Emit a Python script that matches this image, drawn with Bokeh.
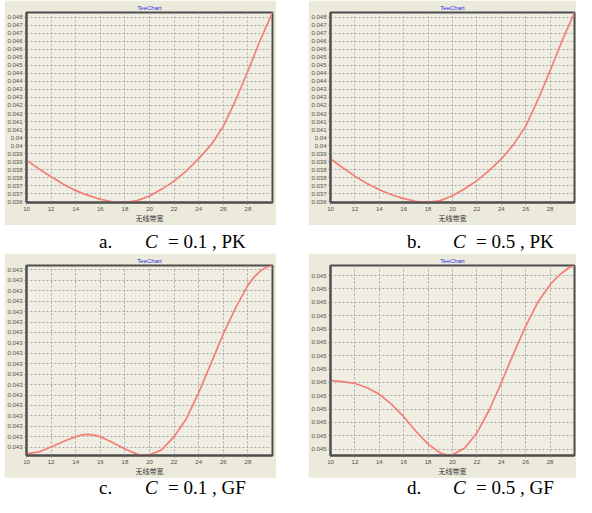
from bokeh.plotting import figure
from bokeh.models import Range1d, FixedTicker, CustomJSTickFormatter, Spacer, Div
from bokeh.layouts import row, column
from bokeh.embed import file_html
from bokeh.resources import INLINE

# ---------------- data ----------------
pk_x = [10, 11, 12, 13, 14, 15, 16, 17, 18, 19, 20, 21, 22, 23, 24, 25, 26, 27, 28, 29, 30]
pk_c01 = [0.03871, 0.03815, 0.03763, 0.03715, 0.03673, 0.03642, 0.03617, 0.03600, 0.03596, 0.03608,
          0.03638, 0.03683, 0.03735, 0.03802, 0.03881, 0.03970, 0.04090, 0.04260, 0.04450, 0.04650, 0.04830]
pk_c05 = [0.03880, 0.03822, 0.03767, 0.03720, 0.03679, 0.03646, 0.03621, 0.03604, 0.03597, 0.03608,
          0.03640, 0.03685, 0.03738, 0.03803, 0.03879, 0.03972, 0.04092, 0.04262, 0.04452, 0.04650, 0.04830]

gf_c01_x = [10, 11, 12, 13, 14, 14.5, 15, 15.5, 16, 17, 18, 19, 19.5, 20, 21, 22, 23, 24, 25, 26, 27, 28, 28.5, 29, 29.5, 30]
gf_c01 = [0.043000016, 0.043000034, 0.043000081, 0.043000134, 0.043000181, 0.043000197, 0.043000203,
          0.043000196, 0.043000181, 0.043000125, 0.043000063, 0.043000013, 0.043000000, 0.043000006,
          0.043000056, 0.043000181, 0.043000353, 0.043000603, 0.043000884, 0.043001166, 0.043001416,
          0.043001634, 0.043001710, 0.043001769, 0.043001805, 0.043001822]

gf_c05_x = [10, 11, 12, 13, 14, 15, 16, 17, 18, 19, 19.8, 20, 21, 22, 23, 24, 25, 26, 27, 28, 28.5, 29, 29.5, 30]
gf_c05 = [0.045000562, 0.045000554, 0.045000540, 0.045000508, 0.045000460, 0.045000383, 0.045000291,
          0.045000182, 0.045000085, 0.045000019, 0.045000000, 0.045000005, 0.045000056, 0.045000169,
          0.045000339, 0.045000545, 0.045000763, 0.045000969, 0.045001150, 0.045001280, 0.045001330,
          0.045001370, 0.045001405, 0.045001424]

x_ticks = [10, 12, 14, 16, 18, 20, 22, 24, 26, 28]
x_title = "无线带宽"
pk_y_labels = ["0.036", "0.037", "0.037", "0.038", "0.038", "0.039", "0.039", "0.04", "0.04", "0.041",
               "0.041", "0.042", "0.042", "0.043", "0.043", "0.044", "0.044", "0.045", "0.045", "0.046",
               "0.046", "0.047", "0.047", "0.048"]
gf_c01_y_labels = ["0.043"] * 18
gf_c05_y_labels = ["0.045"] * 14

panel_tags = ["a.", "b.", "c.", "d."]
c_values = ["0.1", "0.5", "0.1", "0.5"]
methods = ["PK", "PK", "GF", "GF"]

# ---------------- tick layout ----------------
pk_y_ticks = [0.036 + i * (0.012 / 23) for i in range(24)]
gf_c01_y_ticks = [0.043 + (0.8 + k) * 1e-7 for k in range(18)]
gf_c05_y_ticks = [0.045 + (0.48 + k) * 1e-7 for k in range(14)]

PANEL = "#ECEADB"
PLOT = "#F0EEE3"
CURVE = "#F37E78"
FRAME = "#4d4d4d"
PANEL_H = 225


def panel(xs, ys, y_start, y_end, y_ticks, y_labels, width, left, right):
    p = figure(width=width, height=PANEL_H, x_range=Range1d(10, 30), y_range=Range1d(y_start, y_end),
               output_backend="svg", toolbar_location=None,
               min_border_left=left, min_border_right=right, min_border_top=11, min_border_bottom=20,
               border_fill_color=PANEL, background_fill_color=PLOT,
               outline_line_color=FRAME, outline_line_width=2)
    p.title.text = "TeeChart"
    p.title.align = "center"
    p.title.text_font_size = "6px"
    p.title.text_font = "Liberation Sans"
    p.title.text_font_style = "normal"
    p.title.text_color = "#2a2ae6"
    p.title.standoff = 4

    p.xaxis.ticker = FixedTicker(ticks=x_ticks)
    p.yaxis.ticker = FixedTicker(ticks=y_ticks)
    p.yaxis.formatter = CustomJSTickFormatter(args=dict(pos=y_ticks, labels=y_labels), code="""
        let best = 1e9, idx = 0;
        for (let k = 0; k < pos.length; k++) {
            const d = Math.abs(pos[k] - tick);
            if (d < best) { best = d; idx = k; }
        }
        return labels[idx];
    """)
    for ax in (p.xaxis, p.yaxis):
        ax.axis_line_color = FRAME
        ax.axis_line_width = 2
        ax.major_tick_out = 2
        ax.major_tick_in = 0
        ax.minor_tick_out = 0
        ax.minor_tick_in = 0
        ax.major_tick_line_color = "#777777"
        ax.major_label_text_font = "Liberation Sans"
        ax.major_label_text_font_size = "6px"
        ax.major_label_text_color = "#505050"
        ax.major_label_standoff = 2
    p.xaxis.axis_label = x_title
    p.xaxis.axis_label_text_font = "Noto Sans CJK SC"
    p.xaxis.axis_label_text_font_size = "7px"
    p.xaxis.axis_label_text_font_style = "normal"
    p.xaxis.axis_label_text_color = "#333333"
    p.xaxis.axis_label_standoff = -1

    for g in (p.xgrid, p.ygrid):
        g.grid_line_color = "#a8a8a8"
        g.grid_line_dash = "2 2"
        g.grid_line_width = 1

    p.line(xs, ys, line_color=CURVE, line_width=1.7)
    return p


def caption(height, top, tags, cvals, meths):
    lefts = [(99, 145, 168), (407, 453, 476)]
    spans = []
    for (xa, xc, xr), tag, c, m in zip(lefts, tags, cvals, meths):
        spans.append('<span style="position:absolute;left:%dpx;top:%dpx">%s</span>' % (xa, top, tag))
        spans.append('<span style="position:absolute;left:%dpx;top:%dpx;font-style:italic">C</span>' % (xc, top))
        spans.append('<span style="position:absolute;left:%dpx;top:%dpx">= %s , %s</span>' % (xr, top, c, m))
    html = ('<div style="position:relative;width:576px;height:%dpx;overflow:hidden;'
            'font-family:\'Liberation Serif\',serif;font-size:19px;line-height:19px;color:#000;'
            'white-space:nowrap">%s</div>') % (height, "".join(spans))
    return Div(text=html, width=576, height=height, margin=0)


pa = panel(pk_x, pk_c01, 0.03596, 0.0483, pk_y_ticks, pk_y_labels, 272, 20, 4)
pb = panel(pk_x, pk_c05, 0.03596, 0.0483, pk_y_ticks, pk_y_labels, 268, 18, 2)
pc = panel(gf_c01_x, gf_c01, 0.043, 0.043 + 18.22e-7, gf_c01_y_ticks, gf_c01_y_labels, 272, 20, 4)
pd = panel(gf_c05_x, gf_c05, 0.045, 0.045 + 14.24e-7, gf_c05_y_ticks, gf_c05_y_labels, 268, 18, 2)

cap1 = caption(28, 7, panel_tags[:2], c_values[:2], methods[:2])
cap2 = caption(19, 0, panel_tags[2:], c_values[2:], methods[2:])

layout = column(
    row(Spacer(width=4, height=PANEL_H), pa, Spacer(width=32, height=PANEL_H), pb),
    cap1,
    row(Spacer(width=4, height=PANEL_H), pc, Spacer(width=32, height=PANEL_H), pd),
    cap2,
)

open("out.html", "w").write(file_html(layout, INLINE))
